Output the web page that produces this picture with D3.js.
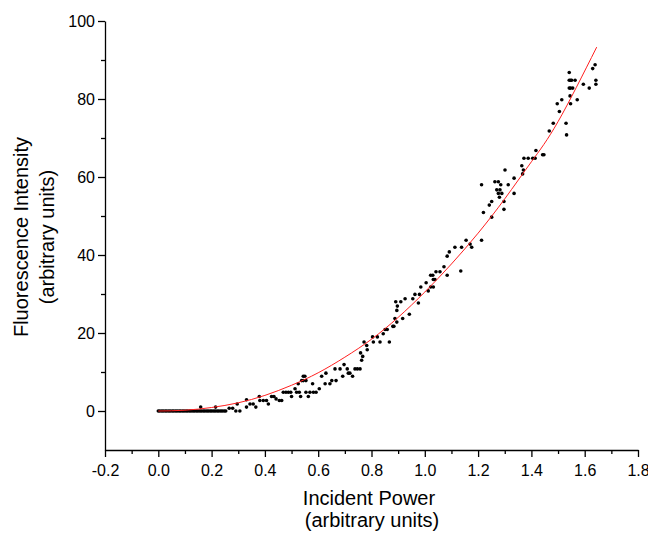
<!DOCTYPE html>
<html>
<head>
<meta charset="utf-8">
<script src="https://cdn.jsdelivr.net/npm/d3@7"></script>
<style>
  body { margin: 0; background: #fff; }
  svg { display: block; font-family: "Liberation Sans", Arial, sans-serif; }
</style>
</head>
<body>
<div id="root"></div>
<script>
// measured points lying on zero (intensity 0)
const zeroPower = [0, 0.006, 0.013, 0.019, 0.026, 0.032, 0.039, 0.045, 0.052, 0.058,
  0.065, 0.071, 0.078, 0.084, 0.091, 0.097, 0.104, 0.110, 0.117, 0.123,
  0.130, 0.136, 0.143, 0.149, 0.156, 0.162, 0.169, 0.175, 0.182, 0.188,
  0.195, 0.201, 0.208, 0.214, 0.221, 0.227, 0.234, 0.240, 0.247, 0.253];

const power = [
  0.159, 0.215, 0.266, 0.279, 0.296, 0.291, 0.306, 0.331, 0.331, 0.344,
  0.356, 0.366, 0.379, 0.381, 0.394, 0.406, 0.413,
  0.425, 0.434, 0.442, 0.454, 0.463, 0.469, 0.479, 0.488, 0.497, 0.500,
  0.513, 0.519, 0.525, 0.529, 0.534, 0.538, 0.544, 0.544, 0.550, 0.554,
  0.554, 0.563, 0.569, 0.579, 0.582, 0.592, 0.604, 0.613, 0.626, 0.629,
  0.644, 0.651, 0.663, 0.667, 0.682, 0.692, 0.697, 0.709, 0.713, 0.719,
  0.729, 0.738, 0.747, 0.757, 0.759, 0.763, 0.767, 0.772, 0.782, 0.784,
  0.804, 0.807, 0.822, 0.832, 0.844, 0.851, 0.859, 0.867,
  0.880, 0.884, 0.895, 0.888, 0.917, 0.942, 0.895, 0.897, 0.891, 0.910,
  0.926, 0.955, 0.963, 0.976, 0.980, 0.985, 1.005, 1.013, 1.022, 1.022,
  1.030, 1.032, 1.032, 1.038, 1.042, 1.057, 1.072, 1.084, 1.084, 1.092,
  1.113, 1.135, 1.138, 1.155, 1.170, 1.176, 1.213,
  1.213, 1.220, 1.242, 1.251, 1.251, 1.263, 1.270, 1.276, 1.276, 1.282,
  1.285, 1.280, 1.289, 1.297, 1.297, 1.301, 1.313, 1.335, 1.335, 1.364,
  1.367, 1.370, 1.372, 1.388, 1.405, 1.414, 1.417, 1.442, 1.447,
  1.467, 1.482, 1.530, 1.532, 1.505, 1.497, 1.514, 1.547, 1.545, 1.572,
  1.542, 1.547, 1.555, 1.542, 1.547, 1.551, 1.564, 1.542, 1.595, 1.617,
  1.630, 1.639, 1.642, 1.642
];

const intensity = [
  1.0, 1.0, 0.7, 0.7, 1.8, 0, 0, 2.9, 1.0, 1.8,
  1.8, 1.0, 3.7, 2.7, 2.7, 2.7, 1.8,
  3.7, 3.7, 3.1, 2.7, 2.7, 4.8, 4.8, 4.8, 4.8, 3.7,
  5.7, 4.8, 7.0, 4.8, 3.7, 7.8, 8.9, 7.8, 8.9, 7.8,
  4.8, 3.7, 4.8, 7.0, 4.8, 4.8, 5.7, 8.9, 7.0, 9.7,
  7.0, 7.8, 10.8, 7.8, 10.8, 8.9, 11.9, 10.8, 9.7, 9.7,
  8.9, 10.8, 10.8, 10.8, 14.9, 13.0, 14.0, 17.7, 16.8, 15.7,
  19.0, 17.7, 19.0, 17.7, 19.8, 20.9, 20.9, 17.7,
  21.7, 21.7, 22.8, 23.7, 23.7, 24.8, 25.8, 26.9, 28.0, 28.0,
  28.8, 28.8, 29.9, 27.7, 29.9, 31.8, 32.9, 30.8, 31.8, 34.8,
  34.8, 33.7, 31.8, 33.7, 35.7, 35.7, 37.0, 34.8, 39.7, 40.8,
  42.0, 35.9, 42.0, 43.8, 42.8, 42.0, 43.8,
  58.0, 50.9, 52.8, 53.7, 49.7, 58.8, 56.7, 58.8, 55.8, 56.7,
  58.0, 54.8, 55.8, 53.7, 51.7, 61.8, 58.0, 59.7, 55.8, 62.9,
  60.8, 61.8, 64.8, 64.8, 64.8, 64.8, 66.8, 65.7, 65.7,
  71.8, 73.8, 73.8, 70.8, 76.8, 78.8, 79.8, 78.8, 80.8, 79.8,
  82.8, 82.8, 82.8, 84.8, 84.8, 84.8, 84.8, 86.8, 83.8, 82.8,
  87.8, 88.8, 84.8, 83.8
];

// red fit curve
const fitPower = [0, 0.1, 0.2, 0.3, 0.4, 0.5, 0.6, 0.7, 0.8, 0.9, 1.0, 1.1, 1.2, 1.3, 1.4, 1.5, 1.645];
const fitIntensity = [0, 0.2, 0.9, 2.1, 4.0, 6.6, 9.8, 13.8, 18.4, 24.0, 30.5, 37.7, 45.6, 54.4, 63.9, 74.2, 93.3];

const xTicks = [-0.2, 0, 0.2, 0.4, 0.6, 0.8, 1.0, 1.2, 1.4, 1.6, 1.8];
const xMinorTicks = [-0.1, 0.1, 0.3, 0.5, 0.7, 0.9, 1.1, 1.3, 1.5, 1.7];
const yTicks = [0, 20, 40, 60, 80, 100];
const yMinorTicks = [10, 30, 50, 70, 90];

const width = 648;
const height = 534;

const svg = d3.select("#root").append("svg")
  .attr("width", width)
  .attr("height", height);

const x = d3.scaleLinear().domain([-0.2, 1.8]).range([105, 638]);
const y = d3.scaleLinear().domain([-10, 100]).range([450, 21]);

// axes
svg.append("g")
  .attr("transform", `translate(0, ${y(-10)})`)
  .call(d3.axisBottom(x).tickValues(xTicks).tickSize(7).tickSizeOuter(0)
    .tickPadding(8).tickFormat((d) => d.toFixed(1)));
svg.append("g")
  .attr("transform", `translate(0, ${y(-10)})`)
  .call(d3.axisBottom(x).tickValues(xMinorTicks).tickSize(4).tickSizeOuter(0).tickFormat(""))
  .select(".domain").remove();

svg.append("g")
  .attr("transform", `translate(${x(-0.2)}, 0)`)
  .call(d3.axisLeft(y).tickValues(yTicks).tickSize(7).tickSizeOuter(0).tickPadding(3));
svg.append("g")
  .attr("transform", `translate(${x(-0.2)}, 0)`)
  .call(d3.axisLeft(y).tickValues(yMinorTicks).tickSize(4).tickSizeOuter(0).tickFormat(""))
  .select(".domain").remove();

svg.selectAll(".domain, .tick line").attr("stroke", "#000").attr("stroke-width", 1.3);
svg.selectAll(".tick text").attr("fill", "#000").style("font-size", "16px")
  .style("font-family", "'Liberation Sans', Arial, sans-serif");

// measured points
const points = zeroPower.map((p) => [p, 0])
  .concat(power.map((p, i) => [p, intensity[i]]));
svg.append("g")
  .selectAll("circle")
  .data(points)
  .join("circle")
  .attr("cx", (d) => x(d[0]))
  .attr("cy", (d) => y(d[1]))
  .attr("r", 1.8)
  .attr("fill", "#000");

// fit curve, on top of the points
const fitData = fitPower.map((p, i) => [p, fitIntensity[i]]);
svg.append("path")
  .datum(fitData)
  .attr("fill", "none")
  .attr("stroke", "#ff2020")
  .attr("stroke-width", 1)
  .attr("d", d3.line().x((d) => x(d[0])).y((d) => y(d[1])).curve(d3.curveNatural));

// axis titles
const xTitle = svg.append("text")
  .attr("text-anchor", "middle")
  .style("font-size", "20px")
  .attr("fill", "#000");
xTitle.append("tspan").attr("x", 369).attr("y", 505).text("Incident Power");
xTitle.append("tspan").attr("x", 372).attr("y", 527).text("(arbitrary units)");

const yTitle = svg.append("text")
  .attr("text-anchor", "middle")
  .attr("transform", "translate(0, 237) rotate(-90)")
  .style("font-size", "20px")
  .attr("fill", "#000");
yTitle.append("tspan").attr("x", 0).attr("y", 28).text("Fluorescence Intensity");
yTitle.append("tspan").attr("x", 0).attr("y", 54).text("(arbitrary units)");
</script>
</body>
</html>
